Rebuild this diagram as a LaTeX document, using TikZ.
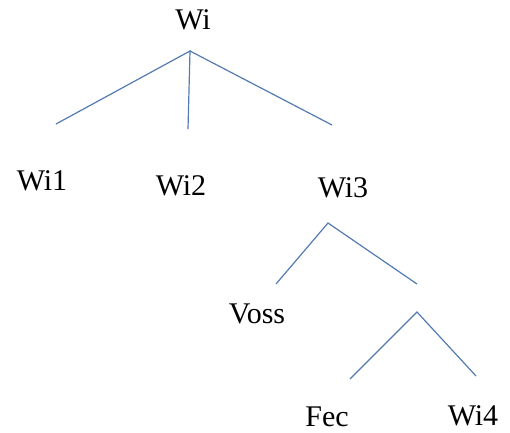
\documentclass[tikz,border=0pt]{standalone}
\usepackage{fontspec}
\setmainfont{Liberation Serif}
\definecolor{branch}{RGB}{84,122,178}

\begin{document}
\begin{tikzpicture}[x=1pt,y=-1pt,
		word/.style={anchor=base,inner sep=0pt,font=\fontsize{30}{32}\selectfont},
		edge/.style={branch,line width=1.2pt}]
			\useasboundingbox (0,0) rectangle (510,432);
			% labels
			\node[word] (wi) at (193,29) {Wi};
			\node[word] (wi1) at (42,190) {Wi1};
			\node[word] (wi2) at (181,195) {Wi2};
			\node[word] (wi3) at (343,197) {Wi3};
			\node[word] (voss) at (257,323) {Voss};
			\node[word] (fec) at (327,426) {Fec};
			\node[word] (wi4) at (473,425) {Wi4};

			% branch points
			\coordinate (top) at (190,51);
			\coordinate (a1) at (56,124);
			\coordinate (a2) at (188,129);
			\coordinate (a3) at (332,125);
			\coordinate (mid) at (328,223);
			\coordinate (b1) at (276,284);
			\coordinate (b2) at (417,284);
			\coordinate (low) at (417,312);
			\coordinate (c1) at (350,379);
			\coordinate (c2) at (476,376);

			\draw[edge] (a1)--(top)--(a2);
			\draw[edge] (top)--(a3);
			\draw[edge] (b1)--(mid)--(b2);
			\draw[edge] (c1)--(low)--(c2);
		\end{tikzpicture}
\end{document}
